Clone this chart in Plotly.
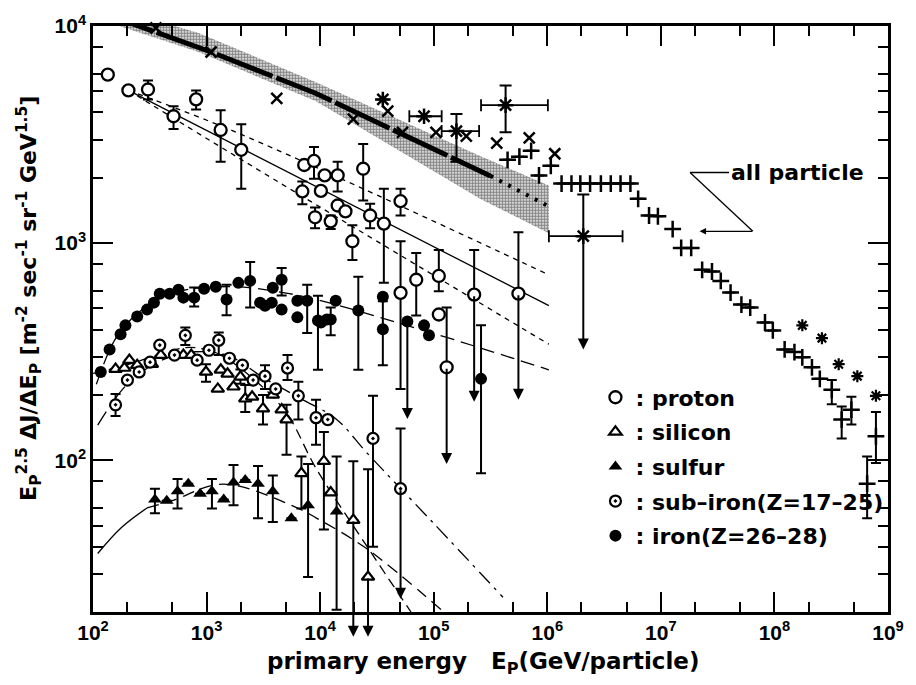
import math
import plotly.graph_objects as go

NaN = float("nan")

# ---------------- data (E in GeV/particle, flux E^2.5 dJ/dE) ----------------
# protons: energy, flux, lower end of bar, upper end of bar
p_E  = [135, 205, 305, 512, 809, 1330, 2020, 6970, 7240, 8830, 9020, 10150, 10960, 12390,
        14260, 14260, 16700, 19230, 23930, 27540, 36390, 51050, 51050, 70150, 110900, 110900,
        130000, 227000, 557000]
p_y  = [5970, 5050, 5100, 3840, 4590, 3320, 2690, 1730, 2290, 2390, 1315, 1740, 2050, 1260,
        2050, 1490, 1400, 1020, 2200, 1340, 1230, 1560, 590, 678, 706, 469,
        268, 579, 585]
p_lo = [None, None, 4590, 3350, 4130, 2370, 1780, 1510, None, 1980, 1170, None, None, 1160,
        1730, None, None, 836, 1570, 1170, 656, 1340, 213, 464, 600, None,
        None, None, None]
p_hi = [None, None, 5610, 4270, 5050, 4090, 3530, 1920, None, 2770, 1460, None, None, 1340,
        2370, None, None, 1210, 2860, 1520, 1780, 1780, 1020, 900, 929, None,
        505, 929, 1122]
p_lim_E  = [130000, 227000, 557000]
p_lim_y  = [268, 579, 585]
p_lim_to = [96, 186, 190]

# iron (Z=26-28): filled circles
fe_E  = [117, 140, 175, 193, 245, 299, 344, 387, 473, 566, 625, 778, 951, 1205, 1500, 1905,
         2420, 2960, 3270, 3750, 3830, 4580, 4580, 6300, 6300, 7690, 9570, 10160, 11460,
         12390, 13710, 21680, 35650, 35650, 58600, 82200, 90800, 261000]
fe_y  = [255, 324, 380, 418, 459, 494, 532, 585, 585, 610, 561, 561, 617, 630, 550, 656,
         670, 532, 515, 532, 623, 678, 494, 543, 455, 543, 440, 431, 445,
         445, 543, 489, 566, 401, 435, 418, 376, 237]
fe_lo = [None]*11 + [510, None, None, 465, None, 505, None, None, None, None, 574, None, None,
         None, 386, 261, None, None, 376, None, 261, None, 274, None, None, None, 87]
fe_hi = [None]*11 + [624, None, None, 643, None, 818, None, None, None, None, 769, None, None,
         None, 643, 573, None, None, 505, None, 700, None, 540, None, None, None, 418]
fe_lim_E, fe_lim_y, fe_lim_to = [58600], [435], [155]

# sub-iron (Z=17-25)
sf_E  = [158, 201, 255, 318, 387, 522, 650, 826, 1050, 1280, 1590, 2070, 2570, 3270, 4060,
         5160, 6430, 9200, 11670, 29200, 51050]
sf_y  = [180, 234, 255, 283, 339, 305, 376, 289, 321, 357, 295, 274, 234, 244, 213,
         266, 198, 157, 154, 126, 74]
sf_lo = [160, None, None, None, None, None, 339, None, None, 305, None, None, None, 213, None,
         234, 154, 118, None, 40, None]
sf_hi = [202, None, None, None, None, None, 409, None, None, 388, None, None, None, 274, None,
         305, 230, 190, None, 198, 140]
sf_lim_E, sf_lim_y, sf_lim_to = [51050], [74], [23]

# silicon: open triangles
si_E  = [158, 189, 209, 245, 330, 395, 625, 733, 988, 1256, 1334, 1531, 1726, 1986, 2190,
         2518, 3140, 3830, 4580, 5060, 6840, 10790, 12390, 19590, 26400]
si_y  = [263, 266, 289, 274, 277, 305, 305, 305, 255, 213, 261, 250, 218, 242, 192,
         196, 173, 200, 171, 154, 87, 99, 71, 53, 29]
si_lo = [None]*8 + [230, None, None, None, None, 225, 167, None, 146, None, None, 106, 60, 48,
         None, None, None]
si_hi = [None]*8 + [277, None, None, None, None, 262, 222, None, 200, None, None, 180, 104, 135,
         None, 99, 91]
si_lim_E, si_lim_y, si_lim_to = [19590, 26400], [53, 29], [15.4, 15.4]

# sulfur: filled triangles
s_E  = [351, 446, 555, 690, 877, 1115, 1416, 1726, 2190, 2838, 3830, 5580, 7830, 13960]
s_y  = [66, 65, 72, 78, 70, 72, 66, 79, 81, 78, 72, 54, 62, 58]
s_lo = [57, None, 60, None, None, 60, None, 62, None, 54, 52, None, 29, 20.5]
s_hi = [74, None, 82, None, None, 82, None, 95, None, 94, 85, None, 96, 104]

# all particle: crosses (x), asterisks and plus signs
x_E = [358, 1096, 4150, 19590, 39400, 53100, 104700, 193600, 358900, 693400, 1164000]
x_y = [9790, 7590, 4640, 3720, 4050, 3240, 3240, 3110, 2890, 3050, 2580]

a_E    = [35650, 82200, 158500, 429500, 2075000]
a_y    = [4590, 3840, 3280, 4320, 1077]
a_xlo  = [None, 61000, 117500, 261000, 1033000]
a_xhi  = [None, 117500, 251000, 1012000, 4600000]
a_ylo  = [None, None, 2370, 3240, None]
a_yhi  = [None, None, 3930, 5320, 1675]
a_lim_E, a_lim_y, a_lim_to = [2075000], [1077], [324]

pl_E  = [447000, 568000, 721000, 845000, 1074000,
         1336000, 1633000, 1954000, 2382000, 2965000, 3622000, 4416000, 5395000,
         6310000, 7870000, 9420000, 1.27e7, 1.51e7, 1.85e7, 2.31e7, 2.82e7, 3.37e7, 4.11e7,
         5.12e7, 6.12e7, 8.26e7, 9.68e7, 1.23e8, 1.50e8, 1.76e8, 2.14e8, 2.51e8,
         3.20e8, 3.91e8, 4.76e8, 6.55e8, 7.83e8]
pl_y  = [2420, 2500, 2660, 2050, 2270,
         1880, 1880, 1880, 1880, 1880, 1880, 1880, 1880,
         1600, 1340, 1330, 1160, 950, 950, 753, 740, 670, 592,
         521, 505, 431, 396, 324, 315, 298, 268, 237,
         211, 154, 171, 78, 129]
pl_lo = [None]*32 + [181, 126, 146, 54, 97]
pl_hi = [None]*32 + [234, 177, 196, 104, 167]

ast_E = [1.76e8, 2.62e8, 3.68e8, 5.37e8, 7.83e8]
ast_y = [418, 365, 277, 244, 198]

# all-particle band (upper & lower edges) and its central thick line
band_E     = [100, 851, 9200, 256000, 1033000]
band_top   = [12880, 9290, 5500, 2520, 1840]
band_bot   = [10960, 7600, 4500, 1600, 1110]
allp_E     = [107, 1096, 9120, 100000, 316000]
allp_y     = [11750, 7590, 4900, 2690, 2040]
allp_dot_E = [316000, 1023000]
allp_dot_y = [2040, 1480]

# fitted curves
pfit_E  = [205, 1033000]
pfit_c  = [5050, 515]
pfit_uE = [205, 1986, 1033000]
pfit_u  = [5050, 3180, 714]
pfit_lE = [205, 1986, 1033000]
pfit_l  = [5050, 2440, 342]
fefit_E = [107, 158, 251, 501, 1585, 5012, 13710, 50120, 130000, 1033000]
fefit_y = [224, 363, 479, 589, 631, 589, 521, 427, 368, 261]
sffit_E = [110, 200, 398, 794, 1585, 3162, 6918, 13800, 26300, 95500, 407000]
sffit_y = [145, 224, 288, 316, 302, 240, 191, 155, 107, 52.5, 23.4]
sifit_E = [100, 200, 398, 708, 1259, 2512, 5012, 9200, 24900, 63100]
sifit_y = [251, 275, 309, 331, 309, 240, 166, 91.8, 41.3, 20]
sfit_E1 = [110, 178, 299]
sfit_y1 = [37.2, 49, 60.3]
sfit_E2 = [299, 492, 1413, 6561, 9200, 24900, 117500]
sfit_y2 = [60.3, 65, 77.6, 59.7, 54.3, 39.6, 20.4]

x_tickvals = [1e2, 1e3, 1e4, 1e5, 1e6, 1e7, 1e8, 1e9]
x_ticktext = ["10<sup>2</sup>", "10<sup>3</sup>", "10<sup>4</sup>", "10<sup>5</sup>",
              "10<sup>6</sup>", "10<sup>7</sup>", "10<sup>8</sup>", "10<sup>9</sup>"]
y_tickvals = [1e2, 1e3, 1e4]
y_ticktext = ["10<sup>2</sup>", "10<sup>3</sup>", "10<sup>4</sup>"]

# ---------------- helpers ----------------
K = "black"
FONT = "Liberation Sans, Arial, sans-serif"
WIDE = "DejaVu Sans, Liberation Sans, sans-serif"


def offsets(y, lo, hi):
    plus = [(h - v) if h is not None else NaN for v, h in zip(y, hi)]
    minus = [(v - l) if l is not None else NaN for v, l in zip(y, lo)]
    return plus, minus


def ebar(y, lo, hi, width=5):
    plus, minus = offsets(y, lo, hi)
    return dict(type="data", symmetric=False, array=plus, arrayminus=minus,
                color=K, thickness=2, width=width)


fig = go.Figure()

# band
fig.add_trace(go.Scatter(x=band_E + band_E[::-1], y=band_top + band_bot[::-1],
                         mode="lines", fill="toself", line=dict(width=0, color="rgba(0,0,0,0)"),
                         fillcolor="rgba(0,0,0,0)",
                         fillpattern=dict(shape=".", size=3, solidity=0.7,
                                          fgcolor="#111", bgcolor="rgba(255,255,255,0)"),
                         showlegend=False, hoverinfo="skip"))
fig.add_trace(go.Scatter(x=allp_E, y=allp_y, mode="lines",
                         line=dict(color=K, width=5, dash="60px,4px"), showlegend=False))
fig.add_trace(go.Scatter(x=allp_dot_E, y=allp_dot_y, mode="lines",
                         line=dict(color=K, width=4, dash="3px,7px"), showlegend=False))

# fits
fig.add_trace(go.Scatter(x=pfit_E, y=pfit_c, mode="lines", line=dict(color=K, width=1.3),
                         showlegend=False))
for ex, ey in [(pfit_uE, pfit_u), (pfit_lE, pfit_l)]:
    fig.add_trace(go.Scatter(x=ex, y=ey, mode="lines", line=dict(color=K, width=1.3, dash="5px,5px"),
                             line_shape="spline", showlegend=False))
fig.add_trace(go.Scatter(x=fefit_E, y=fefit_y, mode="lines", line_shape="spline",
                         line=dict(color=K, width=1.3, dash="14px,7px"), showlegend=False))
fig.add_trace(go.Scatter(x=sffit_E, y=sffit_y, mode="lines", line_shape="spline",
                         line=dict(color=K, width=1.3, dash="16px,6px,3px,6px"), showlegend=False))
fig.add_trace(go.Scatter(x=sifit_E, y=sifit_y, mode="lines", line_shape="spline",
                         line=dict(color=K, width=1.3, dash="10px,6px"), showlegend=False))
fig.add_trace(go.Scatter(x=sfit_E1, y=sfit_y1, mode="lines", line_shape="spline",
                         line=dict(color=K, width=1.3), showlegend=False))
fig.add_trace(go.Scatter(x=sfit_E2, y=sfit_y2, mode="lines", line_shape="spline",
                         line=dict(color=K, width=1.3, dash="12px,7px"), showlegend=False))

# species (legend traces)
fig.add_trace(go.Scatter(x=p_E, y=p_y, mode="markers", name=": proton", legendgroup="a",
                         marker=dict(symbol="circle", size=12, color="white", line=dict(color=K, width=2.3)),
                         error_y=ebar(p_y, p_lo, p_hi), cliponaxis=False))
fig.add_trace(go.Scatter(x=si_E, y=si_y, mode="markers", name=": silicon", legendgroup="b",
                         marker=dict(symbol="triangle-up", size=11, color="white", line=dict(color=K, width=2.2)),
                         error_y=ebar(si_y, si_lo, si_hi), cliponaxis=False))
fig.add_trace(go.Scatter(x=s_E, y=s_y, mode="markers", name=": sulfur", legendgroup="c",
                         marker=dict(symbol="triangle-up", size=12, color=K),
                         error_y=ebar(s_y, s_lo, s_hi), cliponaxis=False))
fig.add_trace(go.Scatter(x=sf_E, y=sf_y, mode="markers", name=": sub\u2013iron(Z=17\u201325)", legendgroup="d",
                         marker=dict(symbol="circle-dot", size=11, color="white", line=dict(color=K, width=2.2)),
                         error_y=ebar(sf_y, sf_lo, sf_hi), cliponaxis=False))
fig.add_trace(go.Scatter(x=fe_E, y=fe_y, mode="markers", name=": iron(Z=26\u201328)", legendgroup="e",
                         marker=dict(symbol="circle", size=12, color=K),
                         error_y=ebar(fe_y, fe_lo, fe_hi), cliponaxis=False))

# all particle
fig.add_trace(go.Scatter(x=x_E, y=x_y, mode="markers", showlegend=False, cliponaxis=False,
                         marker=dict(symbol="x-thin", size=11, line=dict(color=K, width=2.5))))
a_xp, a_xm = offsets(a_E, a_xlo, a_xhi)
fig.add_trace(go.Scatter(x=a_E, y=a_y, mode="markers", showlegend=False, cliponaxis=False,
                         marker=dict(symbol="asterisk", size=13, line=dict(color=K, width=2.5)),
                         error_y=ebar(a_y, a_ylo, a_yhi, width=6),
                         error_x=dict(type="data", symmetric=False, array=a_xp, arrayminus=a_xm,
                                      color=K, thickness=1.8, width=6)))
fig.add_trace(go.Scatter(x=pl_E, y=pl_y, mode="markers", showlegend=False, cliponaxis=False,
                         marker=dict(symbol="cross-thin", size=12, line=dict(color=K, width=2.5)),
                         error_y=ebar(pl_y, pl_lo, pl_hi)))
fig.add_trace(go.Scatter(x=ast_E, y=ast_y, mode="markers", showlegend=False, cliponaxis=False,
                         marker=dict(symbol="asterisk", size=10, line=dict(color=K, width=2.2))))

# upper limits (downward arrows)
annotations = []
for E_l, y_l, t_l in [(p_lim_E, p_lim_y, p_lim_to), (fe_lim_E, fe_lim_y, fe_lim_to),
                      (sf_lim_E, sf_lim_y, sf_lim_to), (si_lim_E, si_lim_y, si_lim_to),
                      (a_lim_E, a_lim_y, a_lim_to)]:
    for e, y0, y1 in zip(E_l, y_l, t_l):
        annotations.append(dict(x=math.log10(e), y=math.log10(y1), ax=math.log10(e),
                                ay=math.log10(y0), xref="x", yref="y", axref="x", ayref="y",
                                text="", showarrow=True, arrowhead=2, arrowsize=1.1,
                                arrowwidth=2, arrowcolor=K))

bold = dict(color=K, weight="bold")
annotations += [
    dict(text="E<sub>P</sub><sup>2.5</sup> \u0394J/\u0394E<sub>P</sub> [m<sup>-2</sup> sec<sup>-1</sup> sr<sup>-1</sup> GeV<sup>1.5</sup>]",
         xref="paper", yref="paper", x=-0.08, y=0.535, xanchor="center", yanchor="middle",
         textangle=-90, showarrow=False, font=dict(size=22, family=WIDE, **bold)),
    dict(text="primary energy&nbsp;&nbsp;&nbsp;E<sub>P</sub>(GeV/particle)",
         xref="paper", yref="paper", x=0.49, y=-0.087, xanchor="center", yanchor="middle",
         showarrow=False, font=dict(size=23, family=WIDE, **bold)),
    dict(text="all particle", xref="paper", yref="paper", x=0.8, y=0.75, xanchor="left",
         yanchor="middle", showarrow=False, font=dict(size=22, family=WIDE, **bold)),
    dict(text="", xref="paper", yref="paper", x=0.763, y=0.6497, ax=54, ay=0,
         showarrow=True, arrowhead=2, arrowsize=1, arrowwidth=1.3, arrowcolor=K),
]

shapes = [
    dict(type="line", xref="paper", yref="paper", x0=0.751, y0=0.75, x1=0.80, y1=0.75,
         line=dict(color=K, width=1.3)),
    dict(type="line", xref="paper", yref="paper", x0=0.751, y0=0.75, x1=0.830, y1=0.6497,
         line=dict(color=K, width=1.3)),
]

axis_common = dict(type="log", showgrid=False, zeroline=False, showline=True, linecolor=K,
                   linewidth=2.5, mirror="ticks", ticks="inside", ticklen=20, tickwidth=2,
                   tickcolor=K, tickfont=dict(size=21, family=FONT, **bold),
                   ticklabeloverflow="allow")

fig.update_layout(
    width=916, height=685, margin=dict(l=93, r=14, t=24, b=73),
    paper_bgcolor="white", plot_bgcolor="white",
    xaxis=dict(range=[2, 9], tickvals=x_tickvals, ticktext=x_ticktext,
               minor=dict(tickvals=[m * 10 ** d for d in range(2, 9) for m in (2, 5)],
                          ticks="inside", ticklen=10, tickwidth=2, tickcolor=K),
               **axis_common),
    yaxis=dict(range=[math.log10(20), 4], tickvals=y_tickvals, ticktext=y_ticktext,
               minor=dict(tickvals=[m * 10 ** d for d in range(1, 4) for m in (2, 3, 4, 5, 6, 8)],
                          ticks="inside", ticklen=10, tickwidth=2, tickcolor=K),
               **axis_common),
    legend=dict(x=0.632, y=0.402, xanchor="left", yanchor="top", bgcolor="rgba(0,0,0,0)",
                font=dict(size=22, family=WIDE, **bold), tracegroupgap=3, itemwidth=30),
    annotations=annotations, shapes=shapes, font=dict(family=FONT, color=K),
)

fig.write_html("out.html")
